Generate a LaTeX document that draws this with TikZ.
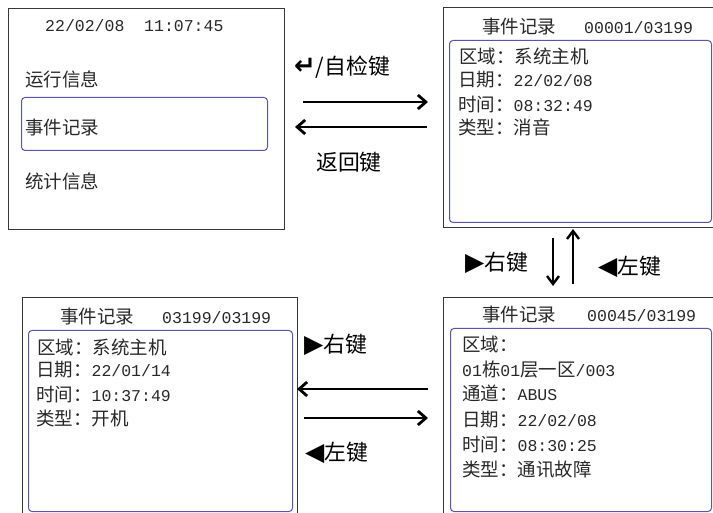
\documentclass[tikz,border=0pt]{standalone}
\usepackage{fontspec}
\setmainfont{Liberation Mono}
\newfontfamily\cjk{Noto Sans CJK SC}[Scale=1.12]
\newfontfamily\dvs{DejaVu Sans}
\usetikzlibrary{arrows.meta}
\definecolor{frameblue}{RGB}{88,84,178}
\definecolor{txt}{RGB}{40,40,40}
\newcommand{\tri}[1]{{\dvs\fontsize{25}{25}\selectfont #1}}
\begin{document}
\begin{tikzpicture}[x=1pt,y=-1pt,
  outerbox/.style={draw=black!78, line width=1.1pt, anchor=north west, inner sep=0pt, fill=white},
  innerbox/.style={draw=frameblue, line width=1pt, rounded corners=3.5pt, anchor=north west, inner sep=0pt},
  scr/.style={anchor=west, inner sep=0pt, text height=14pt, text depth=0pt, text=txt, font=\fontsize{16.5}{18}\selectfont},
  keylbl/.style={anchor=west, inner sep=0pt, text height=16pt, text depth=0pt, text=black, font=\fontsize{19.5}{22}\selectfont\cjk},
  bigarrow/.style={line width=2.8pt, -{Straight Barb[length=8pt,width=14pt]}},
  vertarrow/.style={line width=2.4pt, -{Straight Barb[length=8pt,width=12pt]}}
]
\useasboundingbox (0,0) rectangle (713,513);

% ---------- screen 1 (main menu)
\node[outerbox, minimum width=276pt, minimum height=221pt] (b1) at (8,8) {};
\node[innerbox, minimum width=246pt, minimum height=53pt] (hl) at (21,97) {};
\node[scr] (t1) at (45,25) {22/02/08\ \ 11:07:45};
\node[scr] (m1) at (25,80) {\cjk 运行信息};
\node[scr] (m2) at (25,128) {\cjk 事件记录};
\node[scr] (m3) at (25,182) {\cjk 统计信息};

% ---------- screen 2 (record 00001)
\node[outerbox, minimum width=285pt, minimum height=220pt] (b2) at (443,7) {};
\node[innerbox, minimum width=262pt, minimum height=182pt] (b2i) at (449,40) {};
\node[scr] (b2t) at (482,27) {\cjk 事件记录};
\node[scr] (b2n) at (584,27) {00001/03199};
\node[scr] (b2a) at (459,57) {\cjk 区域：系统主机};
\node[scr] (b2b) at (458,80) {{\cjk 日期：}22/02/08};
\node[scr] (b2c) at (458,105) {{\cjk 时间：}08:32:49};
\node[scr] (b2d) at (458,128) {\cjk 类型：消音};

% ---------- screen 3 (record 03199)
\node[outerbox, minimum width=275pt, minimum height=235pt] (b3) at (22,297) {};
\node[innerbox, minimum width=264pt, minimum height=181pt] (b3i) at (28,330) {};
\node[scr] (b3t) at (60,317) {\cjk 事件记录};
\node[scr] (b3n) at (162,317) {03199/03199};
\node[scr] (b3a) at (37,348) {\cjk 区域：系统主机};
\node[scr] (b3b) at (36,370) {{\cjk 日期：}22/01/14};
\node[scr] (b3c) at (36,395) {{\cjk 时间：}10:37:49};
\node[scr] (b3d) at (36,418) {\cjk 类型：开机};

% ---------- screen 4 (record 00045)
\node[outerbox, minimum width=285pt, minimum height=235pt] (b4) at (443,297) {};
\node[innerbox, minimum width=261pt, minimum height=183pt] (b4i) at (450,328) {};
\node[scr] (b4t) at (482,315) {\cjk 事件记录};
\node[scr] (b4n) at (587,315) {00045/03199};
\node[scr] (b4a) at (462,345) {\cjk 区域：};
\node[scr] (b4b) at (462,370) {01{\cjk 栋}01{\cjk 层一区}/003};
\node[scr] (b4c) at (462,393) {{\cjk 通道：}ABUS};
\node[scr] (b4d) at (462,419) {{\cjk 日期：}22/02/08};
\node[scr] (b4e) at (462,444) {{\cjk 时间：}08:30:25};
\node[scr] (b4f) at (462,469) {\cjk 类型：通讯故障};

% ---------- key labels
\node[keylbl] (k1) at (294,67) {{\dvs\bfseries\fontsize{26}{26}\selectfont ↵}/自检键};
\node[keylbl] (k2) at (316,163) {返回键};
\node[keylbl] (k3) at (465,263) {\tri{▶}右键};
\node[keylbl] (k4) at (598,267) {\tri{◀}左键};
\node[keylbl] (k5) at (304,345) {\tri{▶}右键};
\node[keylbl] (k6) at (305,452) {\tri{◀}左键};

% ---------- arrow end points
\coordinate (a1s) at (303,102);  \coordinate (a1e) at (428,102);
\coordinate (a2s) at (427,127);  \coordinate (a2e) at (295,127);
\coordinate (a3s) at (553,238);  \coordinate (a3e) at (553,286);
\coordinate (a4s) at (573,284);  \coordinate (a4e) at (573,229);
\coordinate (a5s) at (428,389);  \coordinate (a5e) at (297,389);
\coordinate (a6s) at (304,418);  \coordinate (a6e) at (428,418);

\draw[bigarrow] (a1s) -- (a1e);
\draw[bigarrow] (a2s) -- (a2e);
\draw[vertarrow] (a3s) -- (a3e);
\draw[vertarrow] (a4s) -- (a4e);
\draw[bigarrow] (a5s) -- (a5e);
\draw[bigarrow] (a6s) -- (a6e);
\end{tikzpicture}
\end{document}
